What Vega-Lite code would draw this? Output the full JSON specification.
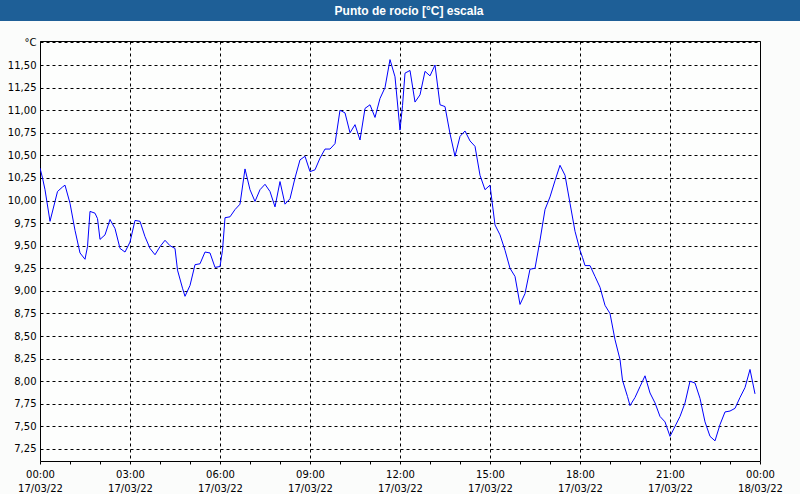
{
  "$schema": "https://vega.github.io/schema/vega-lite/v6.json",
  "padding": 0,
  "background": "#fbfcfb",
  "bounds": "flush",
  "center": true,
  "spacing": 20,
  "config": {
    "axis": {
      "labelFont": "DejaVu Sans",
      "labelFontSize": 10,
      "labelColor": "#000000",
      "domain": false,
      "gridColor": "#000000",
      "gridDash": [3, 3],
      "gridWidth": 1,
      "gridOpacity": 1,
      "tickColor": "#000000",
      "title": null
    }
  },
  "vconcat": [
    {
      "width": 800,
      "height": 21,
      "view": {"fill": "#1e5f97", "stroke": null},
      "data": {"values": [{"label": "Punto de rocío [°C] escala"}]},
      "mark": {"type": "text", "color": "#ffffff", "font": "Liberation Sans", "fontWeight": "bold", "fontSize": 12, "dx": 9, "baseline": "middle", "align": "center"},
      "encoding": {"text": {"field": "label", "type": "nominal"}}
    },
    {
      "width": 720,
      "height": 420,
      "view": {"stroke": "#000000", "strokeWidth": 1, "fill": "#fdfefd"},
      "data": {"values": [
        {"minutes": 0, "dewpoint": 10.36}, {"minutes": 5, "dewpoint": 10.25}, {"minutes": 10, "dewpoint": 10.12}, {"minutes": 20, "dewpoint": 9.77},
        {"minutes": 30, "dewpoint": 9.99}, {"minutes": 35, "dewpoint": 10.10}, {"minutes": 45, "dewpoint": 10.15}, {"minutes": 50, "dewpoint": 10.17},
        {"minutes": 60, "dewpoint": 9.97}, {"minutes": 70, "dewpoint": 9.67}, {"minutes": 80, "dewpoint": 9.42}, {"minutes": 90, "dewpoint": 9.35},
        {"minutes": 95, "dewpoint": 9.49}, {"minutes": 100, "dewpoint": 9.88}, {"minutes": 110, "dewpoint": 9.86}, {"minutes": 115, "dewpoint": 9.80},
        {"minutes": 120, "dewpoint": 9.57}, {"minutes": 130, "dewpoint": 9.62}, {"minutes": 140, "dewpoint": 9.79}, {"minutes": 150, "dewpoint": 9.69},
        {"minutes": 160, "dewpoint": 9.47}, {"minutes": 170, "dewpoint": 9.43}, {"minutes": 180, "dewpoint": 9.54}, {"minutes": 190, "dewpoint": 9.78},
        {"minutes": 200, "dewpoint": 9.77}, {"minutes": 210, "dewpoint": 9.60}, {"minutes": 220, "dewpoint": 9.47}, {"minutes": 230, "dewpoint": 9.40},
        {"minutes": 240, "dewpoint": 9.49}, {"minutes": 250, "dewpoint": 9.56}, {"minutes": 260, "dewpoint": 9.50}, {"minutes": 270, "dewpoint": 9.47},
        {"minutes": 275, "dewpoint": 9.23}, {"minutes": 285, "dewpoint": 9.03}, {"minutes": 290, "dewpoint": 8.94}, {"minutes": 300, "dewpoint": 9.06},
        {"minutes": 310, "dewpoint": 9.29}, {"minutes": 320, "dewpoint": 9.30}, {"minutes": 330, "dewpoint": 9.43}, {"minutes": 340, "dewpoint": 9.42},
        {"minutes": 350, "dewpoint": 9.26}, {"minutes": 360, "dewpoint": 9.27}, {"minutes": 365, "dewpoint": 9.45}, {"minutes": 370, "dewpoint": 9.81},
        {"minutes": 380, "dewpoint": 9.82}, {"minutes": 390, "dewpoint": 9.90}, {"minutes": 400, "dewpoint": 9.96}, {"minutes": 410, "dewpoint": 10.35},
        {"minutes": 420, "dewpoint": 10.12}, {"minutes": 430, "dewpoint": 9.99}, {"minutes": 440, "dewpoint": 10.12}, {"minutes": 450, "dewpoint": 10.18},
        {"minutes": 460, "dewpoint": 10.10}, {"minutes": 470, "dewpoint": 9.93}, {"minutes": 480, "dewpoint": 10.21}, {"minutes": 490, "dewpoint": 9.96},
        {"minutes": 500, "dewpoint": 10.02}, {"minutes": 510, "dewpoint": 10.25}, {"minutes": 520, "dewpoint": 10.45}, {"minutes": 530, "dewpoint": 10.49},
        {"minutes": 540, "dewpoint": 10.32}, {"minutes": 550, "dewpoint": 10.34}, {"minutes": 560, "dewpoint": 10.47}, {"minutes": 570, "dewpoint": 10.57},
        {"minutes": 580, "dewpoint": 10.57}, {"minutes": 590, "dewpoint": 10.63}, {"minutes": 600, "dewpoint": 11.00}, {"minutes": 610, "dewpoint": 10.97},
        {"minutes": 620, "dewpoint": 10.75}, {"minutes": 630, "dewpoint": 10.84}, {"minutes": 640, "dewpoint": 10.67}, {"minutes": 650, "dewpoint": 11.02},
        {"minutes": 660, "dewpoint": 11.06}, {"minutes": 670, "dewpoint": 10.92}, {"minutes": 680, "dewpoint": 11.13}, {"minutes": 690, "dewpoint": 11.25},
        {"minutes": 700, "dewpoint": 11.56}, {"minutes": 710, "dewpoint": 11.37}, {"minutes": 720, "dewpoint": 10.78}, {"minutes": 725, "dewpoint": 11.05},
        {"minutes": 730, "dewpoint": 11.41}, {"minutes": 740, "dewpoint": 11.44}, {"minutes": 750, "dewpoint": 11.09}, {"minutes": 760, "dewpoint": 11.17},
        {"minutes": 770, "dewpoint": 11.43}, {"minutes": 780, "dewpoint": 11.38}, {"minutes": 790, "dewpoint": 11.50}, {"minutes": 800, "dewpoint": 11.06},
        {"minutes": 810, "dewpoint": 11.04}, {"minutes": 820, "dewpoint": 10.74}, {"minutes": 830, "dewpoint": 10.49}, {"minutes": 840, "dewpoint": 10.71},
        {"minutes": 850, "dewpoint": 10.77}, {"minutes": 860, "dewpoint": 10.66}, {"minutes": 870, "dewpoint": 10.60}, {"minutes": 880, "dewpoint": 10.28},
        {"minutes": 890, "dewpoint": 10.12}, {"minutes": 900, "dewpoint": 10.17}, {"minutes": 910, "dewpoint": 9.73}, {"minutes": 920, "dewpoint": 9.62},
        {"minutes": 930, "dewpoint": 9.45}, {"minutes": 940, "dewpoint": 9.25}, {"minutes": 950, "dewpoint": 9.16}, {"minutes": 960, "dewpoint": 8.85},
        {"minutes": 970, "dewpoint": 8.97}, {"minutes": 980, "dewpoint": 9.24}, {"minutes": 990, "dewpoint": 9.25}, {"minutes": 1000, "dewpoint": 9.56},
        {"minutes": 1010, "dewpoint": 9.90}, {"minutes": 1020, "dewpoint": 10.04}, {"minutes": 1030, "dewpoint": 10.22}, {"minutes": 1040, "dewpoint": 10.39},
        {"minutes": 1050, "dewpoint": 10.28}, {"minutes": 1060, "dewpoint": 9.97}, {"minutes": 1070, "dewpoint": 9.66}, {"minutes": 1080, "dewpoint": 9.45},
        {"minutes": 1085, "dewpoint": 9.37}, {"minutes": 1090, "dewpoint": 9.28}, {"minutes": 1100, "dewpoint": 9.28}, {"minutes": 1110, "dewpoint": 9.16},
        {"minutes": 1120, "dewpoint": 9.04}, {"minutes": 1130, "dewpoint": 8.84}, {"minutes": 1140, "dewpoint": 8.75}, {"minutes": 1150, "dewpoint": 8.46},
        {"minutes": 1160, "dewpoint": 8.24}, {"minutes": 1165, "dewpoint": 8.01}, {"minutes": 1175, "dewpoint": 7.83}, {"minutes": 1180, "dewpoint": 7.73},
        {"minutes": 1190, "dewpoint": 7.82}, {"minutes": 1200, "dewpoint": 7.94}, {"minutes": 1210, "dewpoint": 8.06}, {"minutes": 1220, "dewpoint": 7.87},
        {"minutes": 1230, "dewpoint": 7.76}, {"minutes": 1240, "dewpoint": 7.61}, {"minutes": 1250, "dewpoint": 7.55}, {"minutes": 1260, "dewpoint": 7.39},
        {"minutes": 1270, "dewpoint": 7.50}, {"minutes": 1280, "dewpoint": 7.61}, {"minutes": 1290, "dewpoint": 7.76}, {"minutes": 1300, "dewpoint": 8.00},
        {"minutes": 1310, "dewpoint": 7.98}, {"minutes": 1320, "dewpoint": 7.81}, {"minutes": 1330, "dewpoint": 7.55}, {"minutes": 1340, "dewpoint": 7.39},
        {"minutes": 1350, "dewpoint": 7.34}, {"minutes": 1360, "dewpoint": 7.52}, {"minutes": 1370, "dewpoint": 7.66}, {"minutes": 1380, "dewpoint": 7.67},
        {"minutes": 1390, "dewpoint": 7.70}, {"minutes": 1400, "dewpoint": 7.82}, {"minutes": 1410, "dewpoint": 7.93}, {"minutes": 1420, "dewpoint": 8.13},
        {"minutes": 1430, "dewpoint": 7.86}
      ]},
      "mark": {"type": "line", "color": "#0000ff", "strokeWidth": 1, "clip": true},
      "encoding": {
        "x": {
          "field": "minutes",
          "type": "quantitative",
          "scale": {"domain": [0, 1440], "nice": false, "zero": false},
          "axis": {
            "values": [0, 60, 120, 180, 240, 300, 360, 420, 480, 540, 600, 660, 720, 780, 840, 900, 960, 1020, 1080, 1140, 1200, 1260, 1320, 1380, 1440],
            "grid": true,
            "gridOpacity": {"condition": {"test": "datum.value % 180 !== 0", "value": 0}, "value": 1},
            "ticks": true,
            "tickSize": 3,
            "labelPadding": 5,
            "labelBaseline": "top",
            "labelLineHeight": 14,
            "labelFlush": false,
            "labelOverlap": false,
            "labelExpr": "datum.value % 180 === 0 ? [format(floor(datum.value / 60) % 24, '02d') + ':00', datum.value >= 1440 ? '18/03/22' : '17/03/22'] : ''"
          }
        },
        "y": {
          "field": "dewpoint",
          "type": "quantitative",
          "scale": {"domain": [7.117, 11.766], "nice": false, "zero": false},
          "axis": {
            "values": [7.25, 7.5, 7.75, 8, 8.25, 8.5, 8.75, 9, 9.25, 9.5, 9.75, 10, 10.25, 10.5, 10.75, 11, 11.25, 11.5, 11.75],
            "grid": true,
            "ticks": false,
            "labelPadding": 4,
            "labelOverlap": false,
            "labelExpr": "datum.value > 11.7 ? '°C' : replace(format(datum.value, '.2f'), '.', ',')"
          }
        }
      }
    }
  ]
}
